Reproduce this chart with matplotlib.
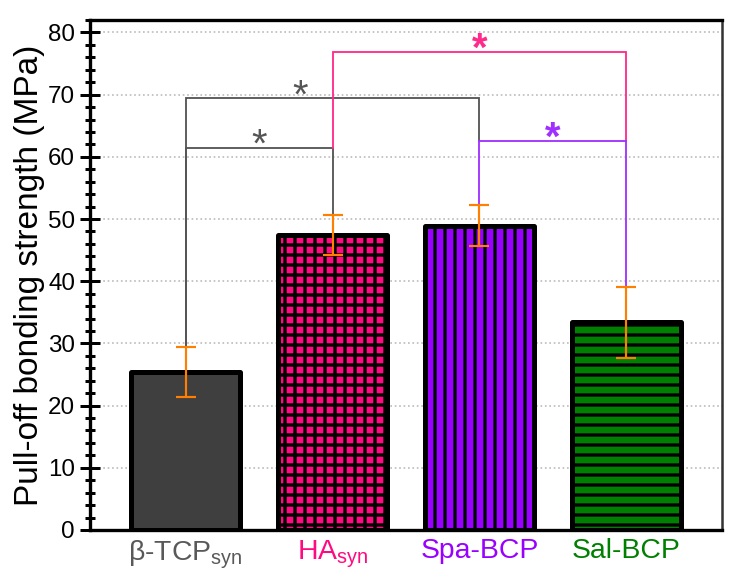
import numpy as np
import matplotlib.pyplot as plt
from matplotlib.ticker import MultipleLocator

plt.rcParams['font.family'] = ['Liberation Sans', 'DejaVu Sans']
plt.rcParams['mathtext.fontset'] = 'custom'
plt.rcParams['mathtext.rm'] = 'Liberation Sans'
plt.rcParams['mathtext.it'] = 'Liberation Sans'
plt.rcParams['hatch.linewidth'] = 2.0

# data
groups = ['β-TCP$_{\\mathrm{syn}}$', 'HA$_{\\mathrm{syn}}$', 'Spa-BCP', 'Sal-BCP']
means = [25.4, 47.4, 48.9, 33.4]
errs = [4.0, 3.2, 3.3, 5.7]
fills = ['#3f3f3f', '#ff0a80', '#9900ff', '#008000']
hatches = ['', '++', '||', '--']
label_colors = ['#595959', '#ff0a80', '#9900ff', '#008000']

# significance brackets: (left bar, right bar, height, left leg bottom, right leg bottom, colour)
brackets = [
    (0, 1, 61.5, 29.4, 50.6, '#555555'),
    (0, 2, 69.4, 29.4, 62.5, '#555555'),
    (1, 3, 76.9, 61.5, 62.5, '#ff2a8c'),
    (2, 3, 62.5, 52.2, 39.1, '#a030ff'),
]
star_x = [0.5, 0.78, 2.0, 2.5]

fig = plt.figure(figsize=(739 / 120, 580 / 120), dpi=120)
ax = fig.add_axes([90 / 739, 50 / 580, 632 / 739, 510 / 580])

x = np.arange(len(groups))
for i in range(len(groups)):
    ax.bar(x[i], means[i], width=0.74, color=fills[i], edgecolor='black',
           linewidth=3, hatch=hatches[i], joinstyle='round', zorder=2)

for (a, b, h, lb, rb, c), sx in zip(brackets, star_x):
    ax.plot([x[a], x[a], x[b], x[b]], [lb, h, h, rb], color=c, lw=1.1,
            zorder=3, solid_joinstyle='miter')
    ax.text(sx, h - 2.7, '*', color=c, fontsize=24, ha='center', va='bottom',
            fontweight='bold' if c != '#555555' else 'normal', zorder=4)

ax.errorbar(x, means, yerr=errs, fmt='none', ecolor='#ff8000', elinewidth=1.3,
            capsize=6, capthick=1.3, zorder=5)

ax.set_xlim(-0.65, 3.65)
ax.set_ylim(0, 82)
ax.yaxis.set_major_locator(MultipleLocator(10))
ax.yaxis.set_minor_locator(MultipleLocator(2))
ax.yaxis.grid(True, which='major', linestyle=':', color='#bbbbbb', lw=1)
ax.set_axisbelow(True)

ax.set_xticks(x)
ax.set_xticklabels(groups, fontsize=17)
for lab, c in zip(ax.get_xticklabels(), label_colors):
    lab.set_color(c)
ax.tick_params(axis='x', length=0, pad=5)
ax.tick_params(axis='y', which='major', direction='inout', length=12, width=1.8,
               labelsize=14.5, pad=3)
ax.tick_params(axis='y', which='minor', direction='inout', length=6, width=1.8)

for side in ['left', 'bottom', 'top']:
    ax.spines[side].set_linewidth(2)
ax.spines['right'].set_linewidth(1.5)
ax.spines['right'].set_color('#333333')

ax.set_ylabel('Pull-off bonding strength (MPa)', fontsize=20, labelpad=2)

fig.savefig('out.png', dpi=120)
